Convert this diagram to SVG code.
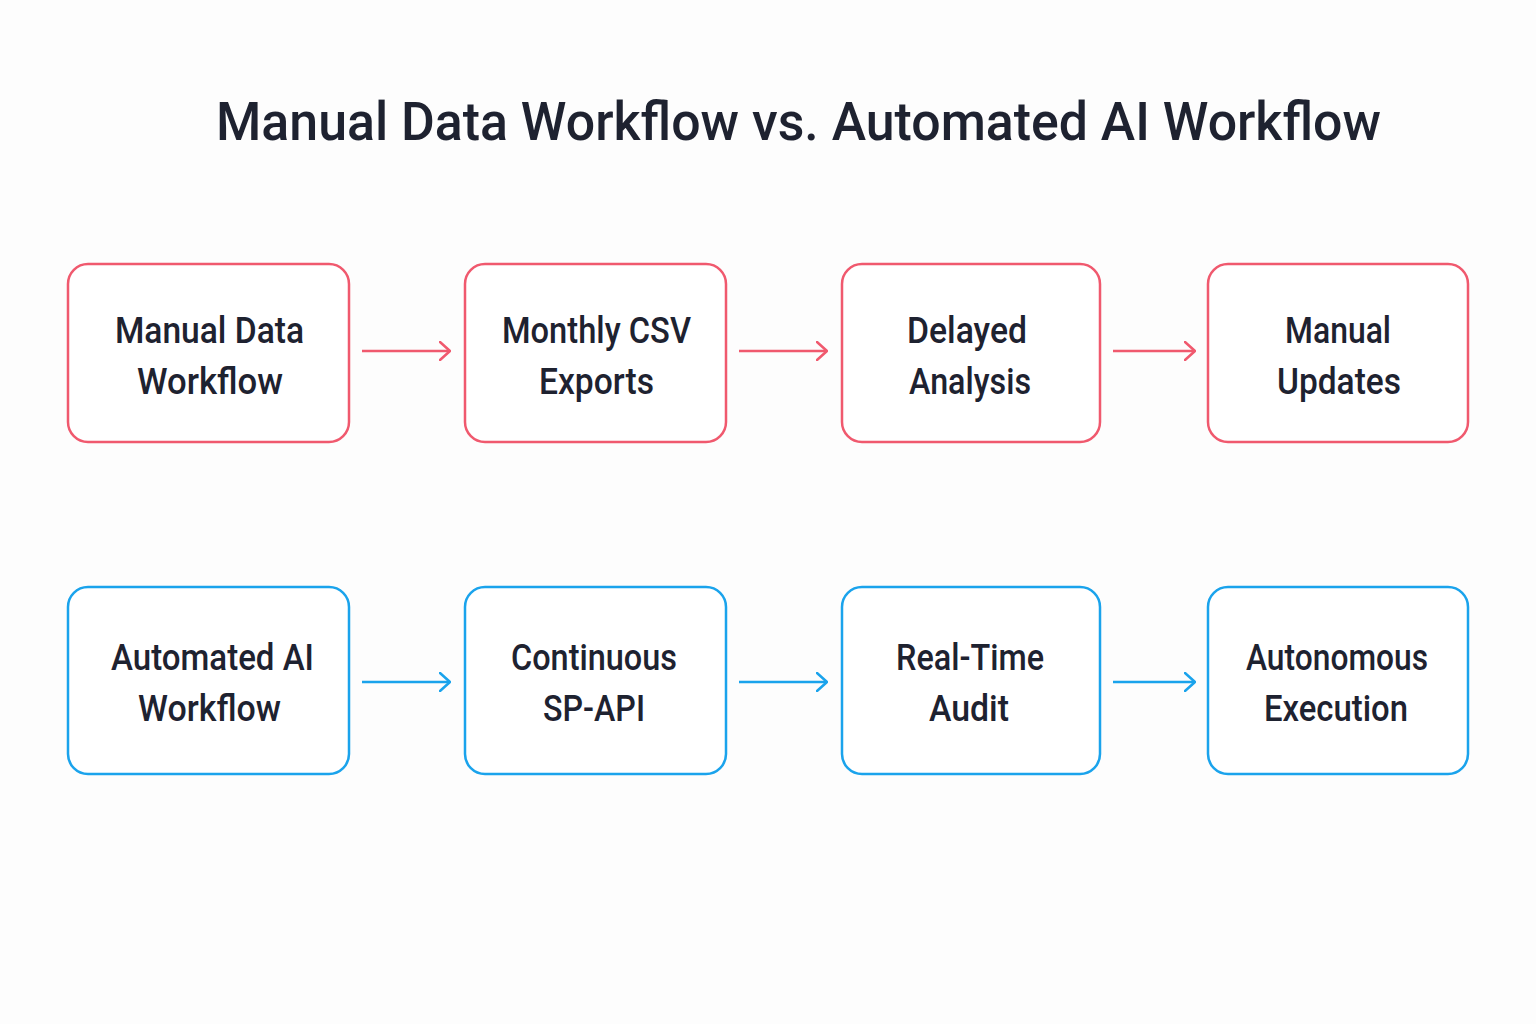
<svg xmlns="http://www.w3.org/2000/svg" width="1536" height="1024" viewBox="0 0 1536 1024">
<defs>
<style>
.bg{fill:#fdfdfd}
.title{font-family:Roboto,"Liberation Sans",sans-serif;font-weight:500;font-size:54px;fill:#1e2230;text-anchor:middle}
.lbl{font-family:Roboto,"Liberation Sans",sans-serif;font-weight:500;font-size:37px;fill:#1e2230;text-anchor:middle}
.red rect{fill:#ffffff;stroke:#f0596e;stroke-width:2.5}
.blue rect{fill:#ffffff;stroke:#1aa3ec;stroke-width:2.5}
.cr{stroke:#f0596e;stroke-width:2.5;fill:none}
.cb{stroke:#1aa3ec;stroke-width:2.5;fill:none}
</style>
<marker id="ar" viewBox="0 0 12 20" markerWidth="12" markerHeight="20" refX="11" refY="10" orient="auto" markerUnits="userSpaceOnUse">
<path d="M1,1 L11,10 L1,19" fill="none" stroke="#f0596e" stroke-width="2.5" stroke-linecap="round" stroke-linejoin="round"/>
</marker>
<marker id="ab" viewBox="0 0 12 20" markerWidth="12" markerHeight="20" refX="11" refY="10" orient="auto" markerUnits="userSpaceOnUse">
<path d="M1,1 L11,10 L1,19" fill="none" stroke="#1aa3ec" stroke-width="2.5" stroke-linecap="round" stroke-linejoin="round"/>
</marker>
</defs>
<rect class="bg" x="0" y="0" width="1536" height="1024"/>
<text class="title" x="798.5" y="140" textLength="1165" lengthAdjust="spacingAndGlyphs">Manual Data Workflow vs. Automated AI Workflow</text>

<g id="n1" class="red"><rect x="68" y="264" width="281" height="178" rx="20"/><text class="lbl" x="209.5" y="343" textLength="189" lengthAdjust="spacingAndGlyphs">Manual Data</text><text class="lbl" x="210" y="394" textLength="146" lengthAdjust="spacingAndGlyphs">Workflow</text></g>
<g id="n2" class="red"><rect x="465" y="264" width="261" height="178" rx="20"/><text class="lbl" x="596.5" y="343" textLength="189" lengthAdjust="spacingAndGlyphs">Monthly CSV</text><text class="lbl" x="596.5" y="394" textLength="115" lengthAdjust="spacingAndGlyphs">Exports</text></g>
<g id="n3" class="red"><rect x="842" y="264" width="258" height="178" rx="20"/><text class="lbl" x="967" y="343" textLength="120" lengthAdjust="spacingAndGlyphs">Delayed</text><text class="lbl" x="970" y="394" textLength="122" lengthAdjust="spacingAndGlyphs">Analysis</text></g>
<g id="n4" class="red"><rect x="1208" y="264" width="260" height="178" rx="20"/><text class="lbl" x="1338" y="343" textLength="106" lengthAdjust="spacingAndGlyphs">Manual</text><text class="lbl" x="1339" y="394" textLength="124" lengthAdjust="spacingAndGlyphs">Updates</text></g>

<g id="n5" class="blue"><rect x="68" y="587" width="281" height="187" rx="20"/><text class="lbl" x="212.5" y="670" textLength="203" lengthAdjust="spacingAndGlyphs">Automated AI</text><text class="lbl" x="209.5" y="721" textLength="143" lengthAdjust="spacingAndGlyphs">Workflow</text></g>
<g id="n6" class="blue"><rect x="465" y="587" width="261" height="187" rx="20"/><text class="lbl" x="594" y="670" textLength="166" lengthAdjust="spacingAndGlyphs">Continuous</text><text class="lbl" x="594" y="721" textLength="102" lengthAdjust="spacingAndGlyphs">SP-API</text></g>
<g id="n7" class="blue"><rect x="842" y="587" width="258" height="187" rx="20"/><text class="lbl" x="970" y="670" textLength="148" lengthAdjust="spacingAndGlyphs">Real-Time</text><text class="lbl" x="969" y="721" textLength="80" lengthAdjust="spacingAndGlyphs">Audit</text></g>
<g id="n8" class="blue"><rect x="1208" y="587" width="260" height="187" rx="20"/><text class="lbl" x="1337" y="670" textLength="182" lengthAdjust="spacingAndGlyphs">Autonomous</text><text class="lbl" x="1336" y="721" textLength="144" lengthAdjust="spacingAndGlyphs">Execution</text></g>

<g id="connectors">
<line class="cr" x1="362" y1="351" x2="450" y2="351" marker-end="url(#ar)"/>
<line class="cr" x1="739" y1="351" x2="827" y2="351" marker-end="url(#ar)"/>
<line class="cr" x1="1113" y1="351" x2="1195" y2="351" marker-end="url(#ar)"/>
<line class="cb" x1="362" y1="682" x2="450" y2="682" marker-end="url(#ab)"/>
<line class="cb" x1="739" y1="682" x2="827" y2="682" marker-end="url(#ab)"/>
<line class="cb" x1="1113" y1="682" x2="1195" y2="682" marker-end="url(#ab)"/>
</g>
</svg>
